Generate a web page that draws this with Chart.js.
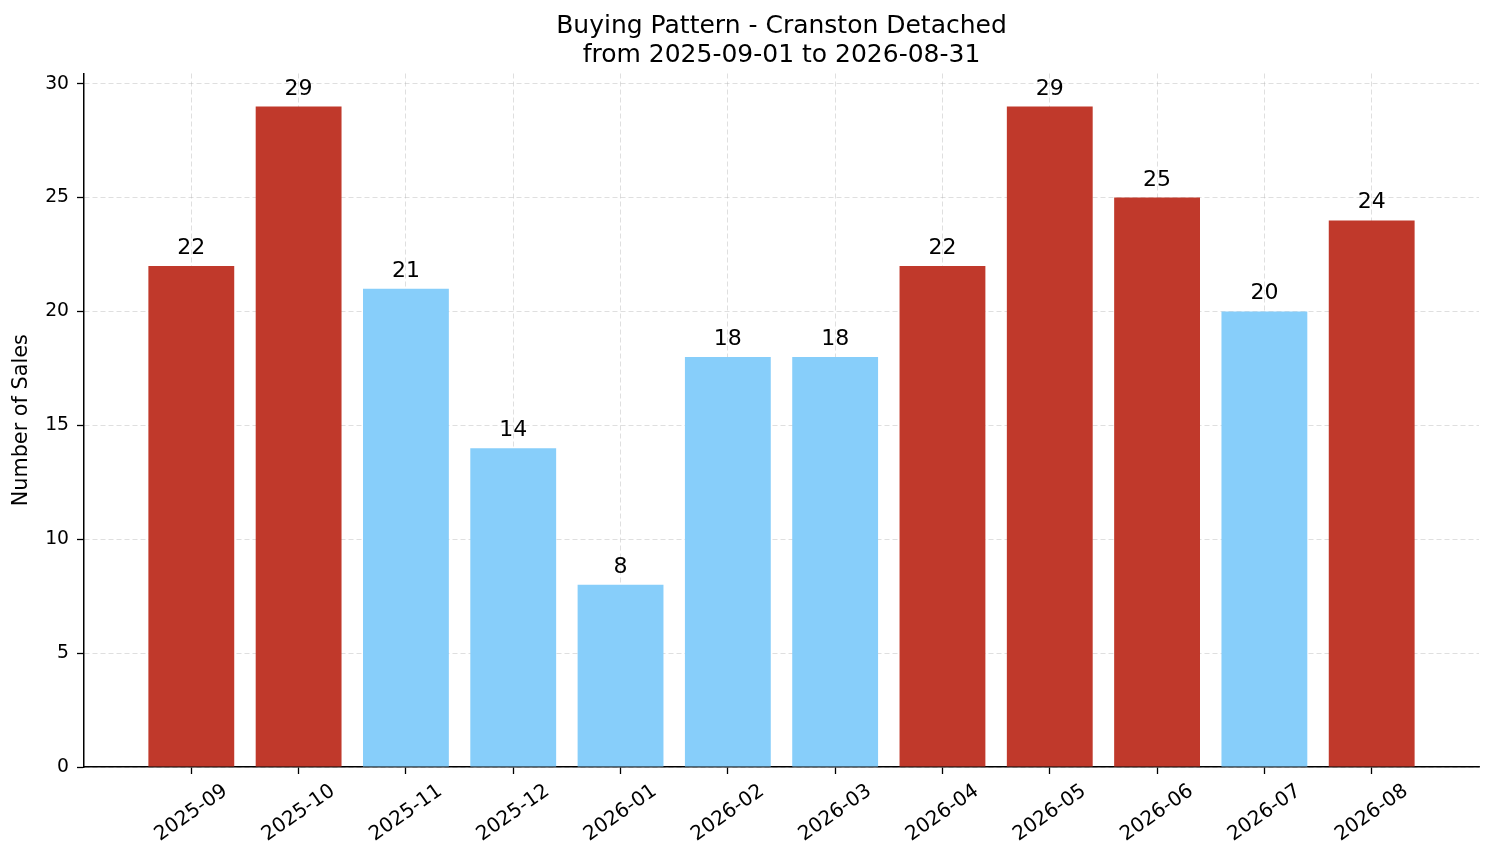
<!DOCTYPE html>
<html>
<head>
<meta charset="utf-8">
<script src="https://cdn.jsdelivr.net/npm/chart.js@4/dist/chart.umd.min.js"></script>
<style>
  html, body { margin: 0; padding: 0; background: #fff; }
  #wrap { width: 1494px; height: 863px; }
</style>
</head>
<body>
<div id="wrap"><canvas id="chart1"></canvas></div>
<script>
// monthly sales
const months = ['2025-09','2025-10','2025-11','2025-12','2026-01','2026-02','2026-03','2026-04','2026-05','2026-06','2026-07','2026-08'];
const sales = [22, 29, 21, 14, 8, 18, 18, 22, 29, 25, 20, 24];
const yTicks = [0, 5, 10, 15, 20, 25, 30];

const FONT = "'DejaVu Sans', sans-serif";
// months above the median are red, the rest light blue
const sorted = sales.slice().sort((a, b) => a - b);
const median = (sorted[5] + sorted[6]) / 2;
const barColors = sales.map(v => v > median ? '#c0392b' : '#87cefa');

const inRange = c => c.tick && c.tick.value >= 0 && c.tick.value < months.length;

// value labels above bars + rotated month labels under the axis
const labelPlugin = {
    id: 'labels',
    afterDatasetsDraw(chart) {
        const ctx = chart.ctx;
        const meta = chart.getDatasetMeta(0);
        ctx.save();
        ctx.fillStyle = '#000';
        ctx.font = '22px ' + FONT;
        ctx.textAlign = 'center';
        ctx.textBaseline = 'alphabetic';
        meta.data.forEach(function(bar, i) {
            ctx.fillText(String(sales[i]), bar.x, bar.y - 12);
        });
        ctx.restore();
    },
    afterDraw(chart) {
        const ctx = chart.ctx;
        const xs = chart.scales.x;
        const ang = 35 * Math.PI / 180;
        const fs = 20;
        ctx.save();
        ctx.fillStyle = '#000';
        ctx.font = fs + 'px ' + FONT;
        ctx.textAlign = 'center';
        ctx.textBaseline = 'middle';
        months.forEach(function(m, i) {
            const w = ctx.measureText(m).width;
            const h = fs * 0.75;
            const bh = w * Math.sin(ang) + h * Math.cos(ang);
            const x = xs.getPixelForValue(i);
            const y = chart.chartArea.bottom + 16 + bh / 2;
            ctx.save();
            ctx.translate(x, y);
            ctx.rotate(-ang);
            ctx.fillText(m, 0, 0);
            ctx.restore();
        });
        ctx.restore();
    }
};

new Chart(document.getElementById('chart1'), {
    type: 'bar',
    data: {
        datasets: [{
            data: sales.map((v, i) => ({x: i, y: v})),
            backgroundColor: barColors,
            borderWidth: 0,
            barPercentage: 0.8,
            categoryPercentage: 1.0
        }]
    },
    options: {
        responsive: true,
        maintainAspectRatio: false,
        animation: false,
        layout: { padding: { left: 0, right: 15, top: 0, bottom: 0 } },
        plugins: {
            legend: { display: false },
            tooltip: { enabled: false },
            title: {
                display: true,
                fullSize: false,
                text: ['Buying Pattern - Cranston Detached', 'from 2025-09-01 to 2026-08-31'],
                color: '#000',
                font: { family: FONT, size: 25, weight: 'normal', lineHeight: 1.15 },
                padding: { top: 12, bottom: 4 }
            }
        },
        scales: {
            x: {
                type: 'linear',
                min: -1,
                max: 12,
                offset: false,
                z: 1,
                afterFit: function(scale) { scale.height = 96; },
                ticks: { display: false, stepSize: 1, includeBounds: false },
                grid: {
                    offset: false,
                    color: c => inRange(c) ? 'rgba(176,176,176,0.5)' : 'rgba(0,0,0,0)',
                    lineWidth: 0.8,
                    tickLength: 7,
                    tickWidth: 1.3,
                    tickColor: c => inRange(c) ? '#000' : 'rgba(0,0,0,0)',
                    tickBorderDash: []
                },
                border: { display: true, color: '#000', width: 1.5, dash: [5, 3] }
            },
            y: {
                min: 0,
                max: 30.45,
                z: 1,
                afterFit: function(scale) { scale.width = 84; },
                afterBuildTicks: function(scale) { scale.ticks = yTicks.map(v => ({value: v})); },
                ticks: {
                    color: '#000',
                    padding: 8,
                    font: { family: FONT, size: 18.75 }
                },
                title: {
                    display: true,
                    text: 'Number of Sales',
                    color: '#000',
                    font: { family: FONT, size: 20.8 },
                    padding: { top: 9, bottom: 0 }
                },
                grid: {
                    color: 'rgba(176,176,176,0.5)',
                    lineWidth: 0.8,
                    tickLength: 7,
                    tickWidth: 1.3,
                    tickColor: '#000',
                    tickBorderDash: []
                },
                border: { display: true, color: '#000', width: 1.5, dash: [5, 3] }
            }
        }
    },
    plugins: [labelPlugin]
});
</script>
</body>
</html>
